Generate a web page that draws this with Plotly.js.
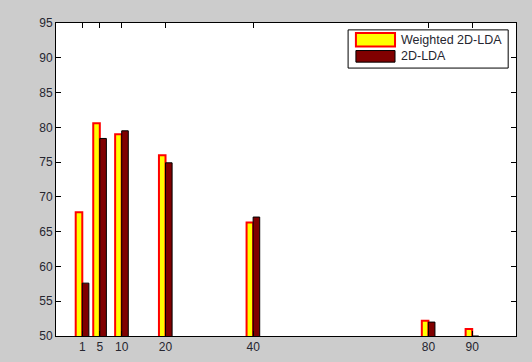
<!DOCTYPE html>
<html>
<head>
<meta charset="utf-8">
<script src="https://cdn.plot.ly/plotly-3.0.1.min.js"></script>
<style>
  html, body { margin: 0; padding: 0; background: #cccccc; }
  #chart { width: 532px; height: 362px; }
</style>
</head>
<body>
<div id="chart"></div>
<script>
// Recognition rate versus number of projection vectors
const dims = [1, 5, 10, 20, 40, 80, 90];
const weightedLDA = [67.8, 80.6, 79.0, 76.0, 66.3, 52.2, 51.0];
const plainLDA = [57.6, 78.4, 79.5, 74.9, 67.1, 52.0, 50.0];
const seriesNames = ['Weighted 2D-LDA', '2D-LDA'];
const yTicks = [50, 55, 60, 65, 70, 75, 80, 85, 90, 95];

const traces = [
  {
    type: 'bar', name: seriesNames[0], x: dims, y: weightedLDA,
    marker: { color: '#ffff00', line: { color: '#ff0000', width: 2 } },
    hoverinfo: 'x+y'
  },
  {
    type: 'bar', name: seriesNames[1], x: dims, y: plainLDA,
    marker: { color: '#800000', line: { color: '#000000', width: 1 } },
    hoverinfo: 'x+y'
  }
];

const tickFont = { family: 'Liberation Sans, Arial, sans-serif', size: 12, color: '#262630' };

const axisCommon = {
  showline: true, linecolor: '#000', linewidth: 1, mirror: 'ticks',
  ticks: 'inside', ticklen: 5, tickcolor: '#000', tickwidth: 1,
  showgrid: false, zeroline: false, tickfont: tickFont, fixedrange: true
};

// legend box drawn in paper space
const lg = { x0: 0.635, x1: 0.983, y0: 0.856, y1: 0.978 };
const rows = [
  { yTop: 0.968, yBot: 0.925, yText: 0.946, fill: '#ffff00', edge: '#ff0000', w: 2 },
  { yTop: 0.912, yBot: 0.875, yText: 0.893, fill: '#800000', edge: '#000000', w: 1 }
];

const shapes = [
  { type: 'rect', xref: 'paper', yref: 'paper', x0: lg.x0, x1: lg.x1, y0: lg.y0, y1: lg.y1,
    fillcolor: '#ffffff', line: { color: '#000', width: 1 } }
];
const annotations = [];
rows.forEach((r, i) => {
  shapes.push({ type: 'rect', xref: 'paper', yref: 'paper', x0: 0.652, x1: 0.737,
    y0: r.yBot, y1: r.yTop, fillcolor: r.fill, line: { color: r.edge, width: r.w } });
  annotations.push({ xref: 'paper', yref: 'paper', x: 0.745, y: r.yText,
    xanchor: 'left', yanchor: 'middle', showarrow: false, text: traces[i].name,
    font: { family: 'Liberation Sans, Arial, sans-serif', size: 12.5, color: '#262630' } });
});

const layout = {
  width: 532, height: 362,
  margin: { l: 56, r: 16, t: 23, b: 26, pad: 0 },
  paper_bgcolor: '#cccccc', plot_bgcolor: '#ffffff',
  showlegend: false,
  barmode: 'group', bargap: 0.25, bargroupgap: 0,
  xaxis: Object.assign({}, axisCommon, {
    range: [-5, 100], tickmode: 'array', tickvals: dims, ticktext: dims.map(String)
  }),
  yaxis: Object.assign({}, axisCommon, {
    range: [50, 95], tickmode: 'array', tickvals: yTicks, ticktext: yTicks.map(String)
  }),
  shapes: shapes,
  annotations: annotations
};

Plotly.newPlot('chart', traces, layout, { displayModeBar: false, staticPlot: true });
</script>
</body>
</html>
